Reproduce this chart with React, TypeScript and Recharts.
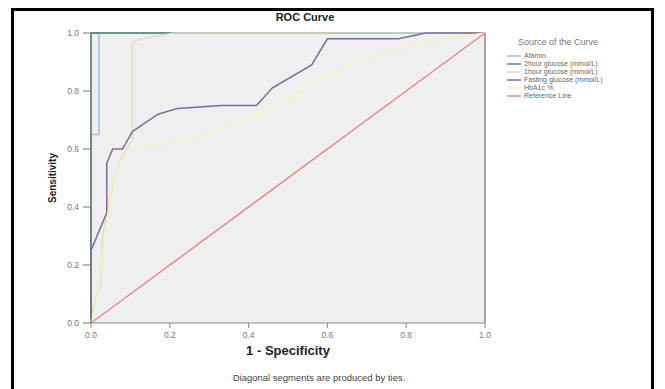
import { LineChart, Line, XAxis, YAxis, CartesianGrid, ReferenceLine } from "recharts";

// ROC points: fpr = 1 - specificity, tpr = sensitivity
const afaminFpr = [0, 0, 0.02, 0.02, 1];
const afaminTpr = [0, 0.65, 0.65, 1, 1];

const twoHourFpr = [0, 0, 1];
const twoHourTpr = [0, 1, 1];

const oneHourFpr = [0, 0.005, 0.025, 0.03, 0.04, 0.06, 0.08, 0.105, 0.105, 0.13, 0.21, 1];
const oneHourTpr = [0, 0.05, 0.14, 0.3, 0.38, 0.5, 0.58, 0.63, 0.97, 0.98, 1, 1];

const fastingFpr = [0, 0, 0.04, 0.04, 0.055, 0.08, 0.105, 0.17, 0.22, 0.33, 0.42, 0.46, 0.56, 0.6, 0.78, 0.85, 1];
const fastingTpr = [0, 0.25, 0.38, 0.55, 0.6, 0.6, 0.66, 0.72, 0.74, 0.75, 0.75, 0.81, 0.89, 0.98, 0.98, 1, 1];

const hba1cFpr = [0, 0.02, 0.035, 0.05, 0.07, 0.1, 0.2, 0.3, 0.4, 0.5, 0.6, 0.7, 0.8, 0.9, 1];
const hba1cTpr = [0, 0.12, 0.3, 0.45, 0.55, 0.6, 0.62, 0.65, 0.7, 0.77, 0.85, 0.91, 0.95, 0.98, 1];

const refFpr = [0, 1];
const refTpr = [0, 1];

const ticks = [0, 0.2, 0.4, 0.6, 0.8, 1];

const toPoints = (xs: number[], ys: number[]) => xs.map((x, i) => ({ x, y: ys[i] }));

const series = [
  { name: "Afamin", color: "#a9bce6", data: toPoints(afaminFpr, afaminTpr) },
  { name: "2hour glucose (mmol/L)", color: "#4f8f7c", data: toPoints(twoHourFpr, twoHourTpr) },
  { name: "1hour glucose (mmol/L)", color: "#dcdfc8", data: toPoints(oneHourFpr, oneHourTpr) },
  { name: "Fasting glucose (mmol/L)", color: "#7b6c9c", data: toPoints(fastingFpr, fastingTpr) },
  { name: "HbA1c %", color: "#f3efbe", data: toPoints(hba1cFpr, hba1cTpr) },
  { name: "Reference Line", color: "#e08c8c", data: toPoints(refFpr, refTpr) },
];

const font = "'Liberation Sans', Arial, sans-serif";

export default function App() {
  return (
    <div style={{ position: "absolute", left: 0, top: 0, width: 665, height: 389, background: "#fff", fontFamily: font }}>
      {/* black frame round the figure */}
      <div style={{ position: "absolute", left: 11, top: 8, width: 637, height: 389, borderTop: "3px solid #000", borderLeft: "3px solid #000", borderRight: "3px solid #000" }} />
      <div style={{ position: "absolute", left: 0, width: 610, top: 11, textAlign: "center", fontSize: 11, fontWeight: "bold", color: "#222" }}>
        ROC Curve
      </div>
      <LineChart width={665} height={389} margin={{ top: 33, right: 180, bottom: 44, left: 0 }}>
        <CartesianGrid horizontal={false} vertical={false} fill="#efefef" />
        <XAxis
          dataKey="x"
          type="number"
          domain={[0, 1]}
          ticks={ticks}
          tickFormatter={(v: number) => v.toFixed(1)}
          allowDuplicatedCategory={false}
          height={22}
          tick={{ fontSize: 8.5, fill: "#777" }}
          stroke="#8a8a8a"
          tickSize={5}
          tickMargin={4}
          label={{ value: "1 - Specificity", position: "bottom", offset: 1, fontSize: 13, fontWeight: "bold", fill: "#222" }}
        />
        <YAxis
          dataKey="y"
          type="number"
          domain={[0, 1]}
          ticks={ticks}
          tickFormatter={(v: number) => v.toFixed(1)}
          width={91}
          tick={{ fontSize: 8.5, fill: "#777" }}
          stroke="#6f7a74"
          tickSize={8}
          tickMargin={4}
          label={{ value: "Sensitivity", angle: -90, position: "center", dx: 7, fontSize: 10, fontWeight: "bold", fill: "#222" }}
        />
        <ReferenceLine y={1} stroke="#7a7a7a" strokeWidth={1.5} />
        <ReferenceLine x={1} stroke="#8a8a8a" strokeWidth={1.5} />
        {series.map((s) => (
          <Line
            key={s.name}
            data={s.data}
            dataKey="y"
            name={s.name}
            type="linear"
            stroke={s.color}
            strokeWidth={1.5}
            dot={false}
            activeDot={false}
            isAnimationActive={false}
          />
        ))}
      </LineChart>
      {/* legend */}
      <div style={{ position: "absolute", left: 507, top: 37, fontSize: 7, color: "#666", lineHeight: "8px" }}>
        <div style={{ fontSize: 9, lineHeight: "11px", marginLeft: 11, marginBottom: 4, color: "#777" }}>Source of the Curve</div>
        {series.map((s) => (
          <div key={s.name} style={{ display: "flex", alignItems: "center", height: 8 }}>
            <svg width={14} height={4} style={{ marginRight: 3 }}>
              <line x1={0} y1={2} x2={14} y2={2} stroke={s.color} strokeWidth={1.5} />
            </svg>
            <span>{s.name}</span>
          </div>
        ))}
      </div>
      <div style={{ position: "absolute", left: 199, width: 240, top: 372, textAlign: "center", fontSize: 9.5, color: "#444" }}>
        Diagonal segments are produced by ties.
      </div>
    </div>
  );
}
